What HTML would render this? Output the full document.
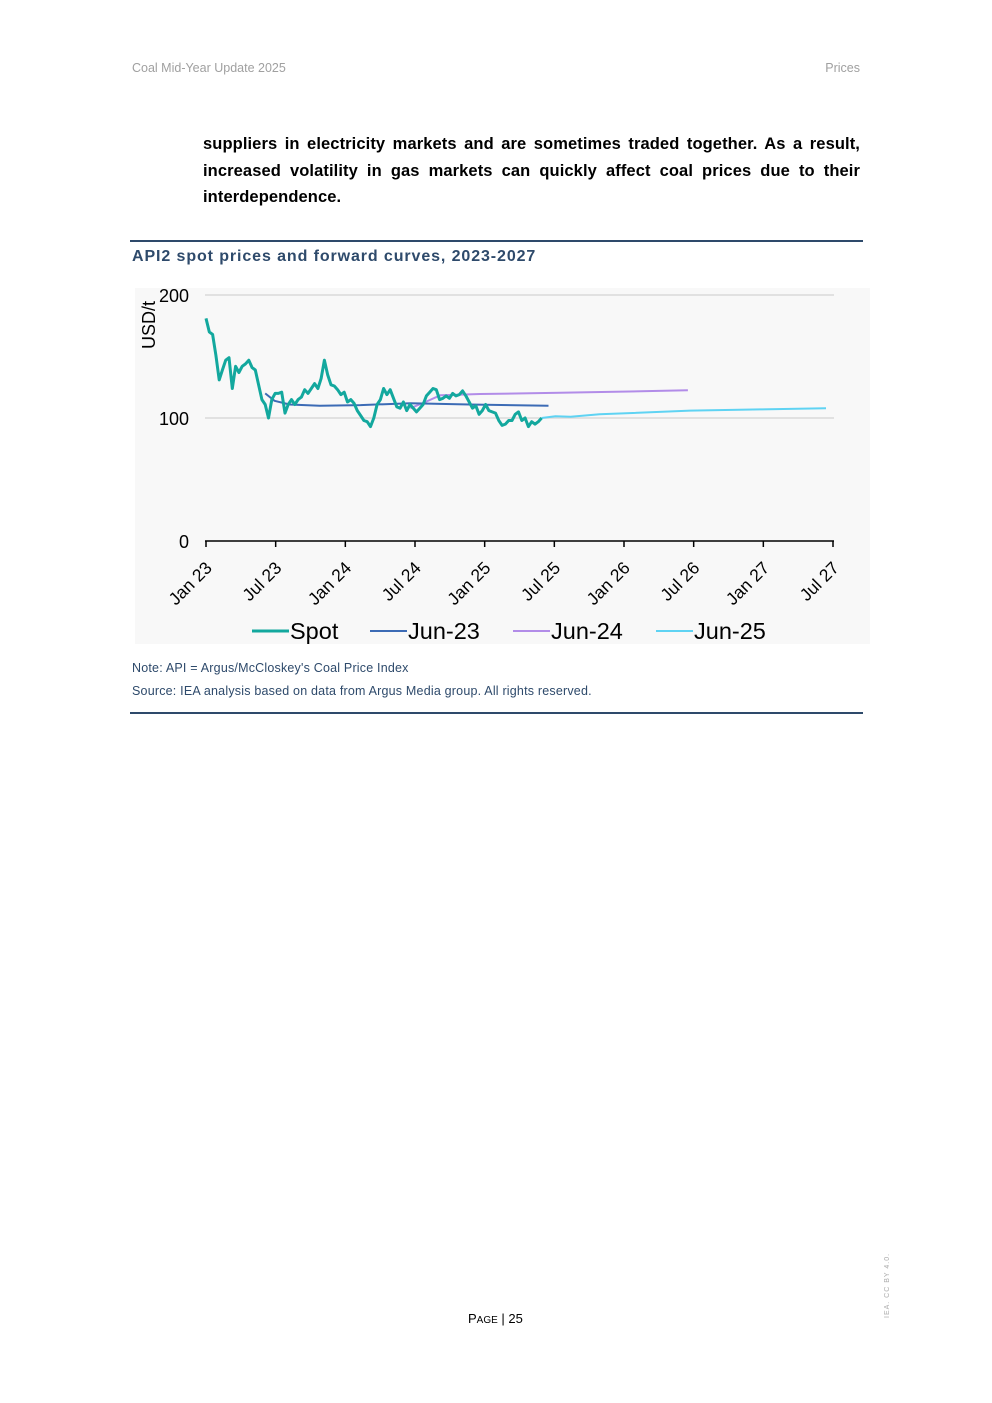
<!DOCTYPE html>
<html><head><meta charset="utf-8"><style>
body{margin:0;width:992px;height:1403px;background:#fff;position:relative;font-family:"Liberation Sans",sans-serif;overflow:hidden}
.abs{position:absolute}
.hdr{top:61px;font-size:12.5px;color:#a0a0a0}
.para{left:203px;top:131px;width:657px;font-size:16.5px;line-height:26.5px;text-align:justify;color:#000;font-weight:bold;letter-spacing:0.1px}
.rule{left:130px;width:733px;height:2px;background:#2e4a6b}
.title{left:132px;top:248px;font-size:16px;font-weight:bold;color:#2e4a6b;letter-spacing:0.9px}
.note{left:132px;font-size:12.5px;color:#2e4a6b;letter-spacing:0.2px}
</style></head><body>
<div class="abs hdr" style="left:132px">Coal Mid-Year Update 2025</div>
<div class="abs hdr" style="right:132px">Prices</div>
<div class="abs para">suppliers in electricity markets and are sometimes traded together. As a result, increased volatility in gas markets can quickly affect coal prices due to their interdependence.</div>
<div class="abs rule" style="top:240px"></div>
<div class="abs title">API2 spot prices and forward curves, 2023-2027</div>
<svg class="abs" style="left:0;top:0" width="992" height="700" id="chart">
<rect x="135" y="288" width="735" height="356" fill="#f8f8f8"/>
<g id="grid"></g><g id="axes"></g><g id="series"></g><g id="legend"></g>
</svg>
<div class="abs note" style="top:661px">Note: API = Argus/McCloskey's Coal Price Index</div>
<div class="abs note" style="top:684px">Source: IEA analysis based on data from Argus Media group. All rights reserved.</div>
<div class="abs rule" style="top:712px"></div>
<div class="abs" style="left:468px;top:1311px;font-size:13px;color:#000">P<span style="font-size:10px">AGE</span> | 25</div>
<div class="abs" style="left:884px;top:1318px;font-size:7px;color:#aaa;transform:rotate(-90deg);transform-origin:0 0;letter-spacing:1px;white-space:nowrap">IEA. CC BY 4.0.</div>
<script>
const xTickLabels=["Jan 23","Jul 23","Jan 24","Jul 24","Jan 25","Jul 25","Jan 26","Jul 26","Jan 27","Jul 27"];
const yTicks=[0,100,200];
const spotStart=0, spotEnd=28.9;
const spotValues=[181,170,168,151,131,139,147,149,124,142,137,142,144,147,141,139,127,115,111,100,115,120,120,121,104,111,115,111,115,117,123,120,124,128,124,132,147,135,127,126,123,119,121,113,115,112,106,102,98,97,93,100,111,115,124,119,123,116,109,108,113,106,111,108,105,108,111,118,121,124,123,115,116,118,116,120,118,119,122,118,113,108,110,103,106,111,106,105,104,98,94,95,98,98,103,105,98,100,93,97,95,97,100];
const jun23Months=[5.1,5.9,7.2,9.8,13.3,17.6,22.7,29.5];
const jun23Values=[120,114,111,110,110.5,112,111,110];
const jun24Months=[17.6,18.9,20.2,23.6,30.5,41.5];
const jun24Values=[108,113,118.5,119.5,120.5,122.5];
const jun25Months=[28.9,30.1,31.4,33.9,41.7,47.7,53.4];
const jun25Values=[100,101.5,101,103,106,107,108];
const seriesNames=["Spot","Jun-23","Jun-24","Jun-25"];
const colors=["#13a89e","#3c6bb5","#b28ce8","#5fd3f3"];
const X0=206,X1=833,Y0=541,Y200=295;
const xs=m=>X0+(X1-X0)*m/54;
const ys=v=>Y0-(Y0-Y200)*v/200;
const NS="http://www.w3.org/2000/svg";
function mk(tag,attrs,parent){const e=document.createElementNS(NS,tag);for(const k in attrs)e.setAttribute(k,attrs[k]);document.getElementById(parent).appendChild(e);return e;}
yTicks.forEach(v=>{
  if(v>0){const l=mk("line",{x1:205,x2:834,y1:ys(v),y2:ys(v),stroke:"#d9d9d9","stroke-width":1.5},"grid");
  
  }
  const t=mk("text",{x:189,y:ys(v)+7,"text-anchor":"end","font-size":18,fill:"#000"},"axes");t.textContent=v;
  
  
});
const yt=mk("text",{x:0,y:0,"font-size":18,fill:"#000",transform:"translate(155,349) rotate(-90)"},"axes");yt.textContent="USD/t";


const ax=mk("line",{x1:205,x2:834,y1:Y0,y2:Y0,stroke:"#000","stroke-width":1.5},"axes");


xTickLabels.forEach((lab,i)=>{
  const x=xs(i*6);
  const tk=mk("line",{x1:x,x2:x,y1:Y0,y2:Y0+6,stroke:"#000","stroke-width":1.5},"axes");
  
  
  const t=mk("text",{x:0,y:0,"font-size":17.5,"text-anchor":"end",fill:"#000",transform:`translate(${x+7},${Y0+28}) rotate(-45)`},"axes");t.textContent=lab;
  
  
});
function line(ms,vs,color,w,name){
  const d=ms.map((m,i)=>(i?"L":"M")+xs(m).toFixed(1)+","+ys(vs[i]).toFixed(1)).join(" ");
  const p=mk("path",{d:d,fill:"none",stroke:color,"stroke-width":w,"stroke-linejoin":"round"},"series");
  
  
}
const spotMonths=spotValues.map((v,i)=>spotStart+(spotEnd-spotStart)*i/(spotValues.length-1));
line(jun24Months,jun24Values,colors[2],2,"jun-24-line");
line(jun23Months,jun23Values,colors[1],2,"jun-23-line");
line(jun25Months,jun25Values,colors[3],2,"jun-25-line");
line(spotMonths,spotValues,colors[0],3,"spot-line");
const lx=[252,370,513,656];
seriesNames.forEach((n,i)=>{
  const l=mk("line",{x1:lx[i],x2:lx[i]+37,y1:631,y2:631,stroke:colors[i],"stroke-width":i==0?3:2},"legend");
  
  
  const t=mk("text",{x:lx[i]+38,y:639,"font-size":23.5,fill:"#000"},"legend");t.textContent=n;
  
  
});
</script>
</body></html>
